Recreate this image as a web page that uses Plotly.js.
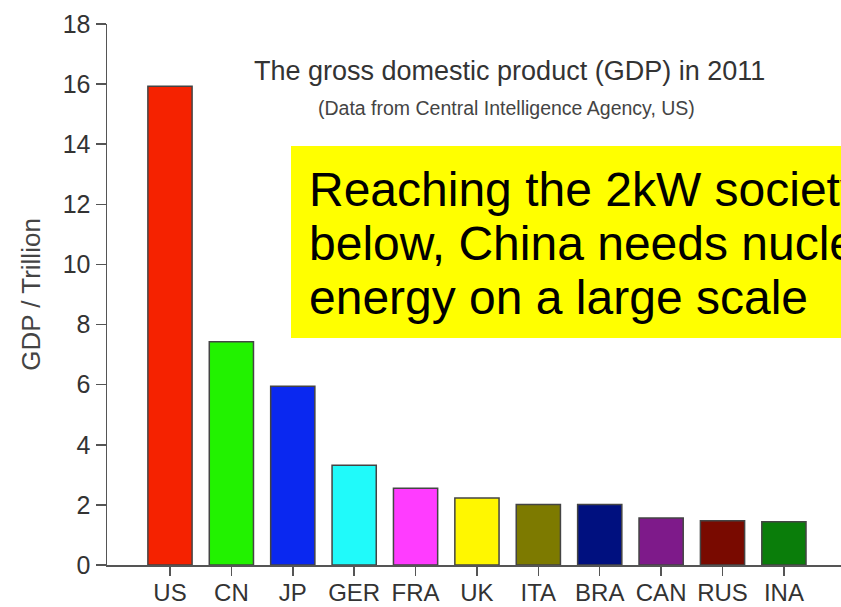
<!DOCTYPE html>
<html>
<head>
<meta charset="utf-8">
<script src="https://cdn.plot.ly/plotly-3.0.1.min.js"></script>
<style>html,body{margin:0;padding:0;background:#fff;overflow:hidden}#chart{width:841px;height:607px}</style>
</head>
<body>
<div id="chart"></div>
<script>
const countries = ["US", "CN", "JP", "GER", "FRA", "UK", "ITA", "BRA", "CAN", "RUS", "INA"];
const gdpTrillion = [15.93, 7.43, 5.95, 3.32, 2.55, 2.23, 2.01, 2.01, 1.56, 1.47, 1.44];
const barColors = ["#F52200", "#22F200", "#0A28F0", "#20FAFA", "#FF3CFF", "#FFF700",
                   "#7D7A00", "#00107F", "#7E1A8A", "#790A00", "#0A7D0A"];
const yTicks = [0, 2, 4, 6, 8, 10, 12, 14, 16, 18];
const chartTitle = "The gross domestic product (GDP) in 2011";
const chartSubtitle = "(Data from Central Intelligence Agency, US)";
const yAxisTitle = "GDP / Trillion";
const noteLines = ["Reaching the 2kW society or", "below, China needs nuclear", "energy on a large scale"];

const W = 841, H = 607;
const M = {l: 107, r: 0, t: 24, b: 42};
const PW = W - M.l - M.r, PH = H - M.t - M.b;
const px = x => (x - M.l) / PW;
const py = y => (H - M.b - y) / PH;

const FONT = '"Liberation Sans", Arial, Helvetica, sans-serif';
const AX = '#555';

const noteAnns = noteLines.map((t, i) => ({
  text: t, xref: 'paper', yref: 'paper', x: px(307), y: py(189 + i * 54),
  xanchor: 'left', yanchor: 'middle', showarrow: false,
  font: {family: FONT, size: 48, color: '#000'}
}));

const data = [{
  type: 'bar', x: countries, y: gdpTrillion, width: 0.72,
  marker: {color: barColors, line: {color: '#444', width: 1.5}},
  hoverinfo: 'x+y'
}];

const layout = {
  width: W, height: H,
  margin: M,
  paper_bgcolor: '#fff', plot_bgcolor: '#fff',
  showlegend: false,
  font: {family: FONT, color: '#333'},
  xaxis: {
    type: 'category', range: [-1.026, 10.93],
    showline: true, linecolor: AX, linewidth: 1.5,
    ticks: 'outside', ticklen: 9, tickwidth: 1.5, tickcolor: AX,
    ticklabelstandoff: -3,
    showgrid: false, zeroline: false,
    tickfont: {family: FONT, size: 24, color: '#333'}
  },
  yaxis: {
    range: [0, 18], tickvals: yTicks, ticktext: yTicks.map(String),
    showline: true, linecolor: AX, linewidth: 1.5,
    ticks: 'outside', ticklen: 10, tickwidth: 1.5, tickcolor: AX,
    showgrid: false, zeroline: false,
    tickfont: {family: FONT, size: 25, color: '#333'},
    title: {text: yAxisTitle, standoff: 14, font: {family: FONT, size: 26, color: '#444'}}
  },
  shapes: [{
    type: 'rect', xref: 'paper', yref: 'paper', layer: 'above',
    x0: px(291), x1: px(860), y0: py(338), y1: py(146),
    fillcolor: '#FFFF00', line: {width: 0}
  }],
  annotations: [
    {text: chartTitle, xref: 'paper', yref: 'paper', x: px(510), y: py(71),
     xanchor: 'center', yanchor: 'middle', showarrow: false,
     font: {family: FONT, size: 27, color: '#333'}},
    {text: chartSubtitle, xref: 'paper', yref: 'paper', x: px(506), y: py(108),
     xanchor: 'center', yanchor: 'middle', showarrow: false,
     font: {family: FONT, size: 19.5, color: '#444'}}
  ].concat(noteAnns)
};

Plotly.newPlot('chart', data, layout, {displayModeBar: false, staticPlot: true});
</script>
</body>
</html>
